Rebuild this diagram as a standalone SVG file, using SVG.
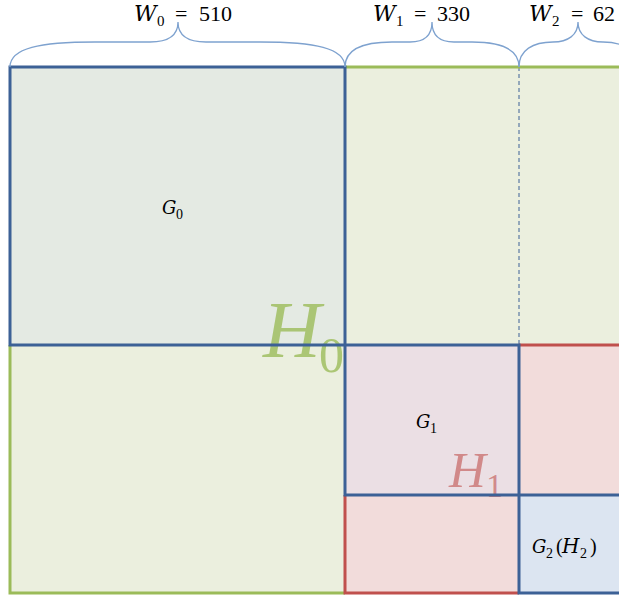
<svg xmlns="http://www.w3.org/2000/svg" width="619" height="600" viewBox="0 0 619 600">
<style>
.brace{fill:none;stroke:#7EA2CF;stroke-width:1.3}
.blue{fill:none;stroke:#3C6196;stroke-width:3}
.green{fill:none;stroke:#9BBB59;stroke-width:3}
.red{fill:none;stroke:#C0504D;stroke-width:3}
.lbl{font-family:"Liberation Serif",serif;fill:#000}
.it{font-family:"DejaVu Serif",serif;font-style:italic}
</style>
<rect width="619" height="600" fill="#fff"/>
<g id="H0">
<rect x="10" y="67" width="620" height="526" fill="#EBEFDE"/>
</g>
<g id="G0">
<rect x="10" y="67" width="335" height="278" fill="#E4EAE3"/>
<text class="lbl" font-size="20"><tspan class="it" font-size="18" x="162" y="214">G</tspan><tspan x="176" y="219" font-size="14">0</tspan></text>
</g>
<g id="H1">
<rect x="345" y="345" width="280" height="248" fill="#F2DCDB"/>
</g>
<g id="G1">
<rect x="345" y="345" width="174" height="150" fill="#EBDFE4"/>
<text class="lbl" font-size="20"><tspan class="it" font-size="18" x="416" y="428">G</tspan><tspan x="430" y="433" font-size="14">1</tspan></text>
</g>
<g id="G2">
<rect x="519" y="495" width="105" height="98" fill="#DCE5F1"/>
<text class="lbl" font-size="20"><tspan class="it" font-size="18" x="532" y="553">G</tspan><tspan x="546" y="558" font-size="14">2</tspan><tspan x="556" y="553">(</tspan><tspan class="it" font-size="20" x="562" y="553">H</tspan><tspan x="580" y="558" font-size="14">2</tspan><tspan x="590" y="553">)</tspan></text>
</g>
<g id="bigLabels">
<text font-family="'Liberation Serif',serif" fill="#9BBB59" fill-opacity="0.8"><tspan font-style="italic" font-size="80" x="263" y="357">H</tspan><tspan font-size="50" x="319" y="372">0</tspan></text>
<text font-family="'Liberation Serif',serif" fill="#C0504D" fill-opacity="0.6"><tspan font-style="italic" font-size="51" x="449" y="487">H</tspan><tspan font-size="34" x="486" y="497">1</tspan></text>
</g>
<g id="connectors">
<line x1="519" y1="67" x2="519" y2="345" stroke="#3C6196" stroke-width="1" stroke-dasharray="4 3"/>
<path class="green" d="M345,67 H619 M10,345 V593 H345"/>
<path class="red" d="M519,345 H619 M345,495 V593 H519"/>
<path class="blue" d="M10,67 H345 V345 H10 Z M345,345 H519 V495 H345 Z M519,495 H619 M519,495 V593 H619"/>
<path class="brace" d="M10,67 C10,48 40,42 95,42 L150,42 C168,42 178,36 178,22 C178,36 188,42 206,42 L260,42 C315,42 345,48 345,67"/>
<path class="brace" d="M345,67 C345,50 362,42 392,42 L410,42 C425,42 432,35 432,22 C432,35 439,42 454,42 L472,42 C502,42 519,50 519,67"/>
<path class="brace" d="M519,67 C519,50 533,42 553,42 C568,42 578,35 578,22 C578,35 588,42 603,42 C623,42 637,50 637,67"/>
</g>
<g id="widths" class="lbl" font-size="22">
<text><tspan class="it" font-size="22" x="134" y="21">W</tspan><tspan x="157" y="26" font-size="15">0</tspan><tspan x="175" y="21">=</tspan><tspan x="199" y="21">510</tspan></text>
<text><tspan class="it" font-size="22" x="373" y="21">W</tspan><tspan x="396" y="26" font-size="15">1</tspan><tspan x="414" y="21">=</tspan><tspan x="437" y="21">330</tspan></text>
<text><tspan class="it" font-size="22" x="529" y="21">W</tspan><tspan x="552" y="26" font-size="15">2</tspan><tspan x="571" y="21">=</tspan><tspan x="593" y="21">62</tspan></text>
</g>
</svg>
